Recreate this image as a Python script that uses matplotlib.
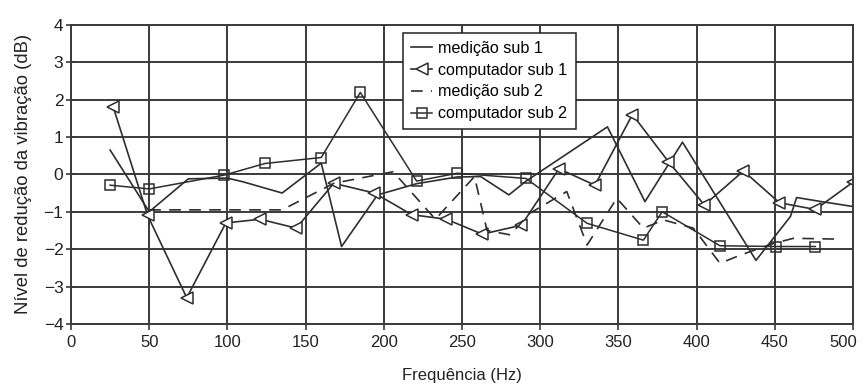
import numpy as np
import matplotlib
matplotlib.use("Agg")
import matplotlib.pyplot as plt
from matplotlib.transforms import ScaledTranslation

plt.rcParams['font.family'] = ['Liberation Sans', 'DejaVu Sans']

# medição sub 1 (linha contínua)
med1_f = [25, 50, 75, 100, 110, 135, 160, 173, 196, 221, 247, 262, 280, 291, 343, 367, 391, 438, 460, 464, 480, 500]
med1_db = [0.65, -1.0, -0.12, -0.1, -0.2, -0.5, 0.3, -1.93, -0.55, -0.25, -0.07, -0.06, -0.55, -0.18, 1.27, -0.73, 0.86, -2.3, -1.13, -0.62, -0.73, -0.86]

# computador sub 1 (triângulos)
comp1_f = [27, 49, 74, 99, 121, 144, 168, 194, 218, 240, 263, 288, 312, 335, 359, 382, 405, 430, 453, 476, 500]
comp1_db = [1.8, -1.1, -3.3, -1.3, -1.2, -1.44, -0.24, -0.5, -1.08, -1.2, -1.6, -1.36, 0.15, -0.29, 1.6, 0.34, -0.82, 0.09, -0.76, -0.94, -0.21]

# medição sub 2 (tracejada)
med2_f = [50, 135, 168, 206, 233, 258, 266, 281, 293, 317, 330, 349, 366, 379, 398, 415, 428, 449, 462, 488]
med2_db = [-0.95, -0.95, -0.24, 0.07, -1.2, -0.06, -1.5, -1.62, -1.05, -0.46, -1.89, -0.64, -1.44, -1.22, -1.44, -2.38, -2.16, -1.85, -1.71, -1.73]

# computador sub 2 (quadrados)
comp2_f = [25, 50, 98, 124, 160, 185, 221, 247, 291, 330, 366, 378, 415, 451, 476]
comp2_db = [-0.29, -0.39, -0.02, 0.29, 0.45, 2.19, -0.18, 0.03, -0.11, -1.31, -1.76, -1.0, -1.91, -1.93, -1.93]

xticks = [0, 50, 100, 150, 200, 250, 300, 350, 400, 450, 500]
yticks = [-4, -3, -2, -1, 0, 1, 2, 3, 4]

ink = '#2e2e2e'

fig = plt.figure(figsize=(8.64, 3.87), dpi=100)
ax = fig.add_axes([0.0822, 0.163, 0.905, 0.773])

ax.plot(med1_f, med1_db, color=ink, lw=1.2, label='medição sub 1')
ax.plot(comp1_f, comp1_db, color=ink, lw=1.2, marker='<', ms=8,
        mfc='white', mec=ink, mew=1.1, label='computador sub 1')
ax.plot(med2_f, med2_db, color=ink, lw=1.2, ls=(0, (7, 5)), label='medição sub 2')
ax.plot(comp2_f, comp2_db, color=ink, lw=1.1, marker='s', ms=7.5,
        mfc='none', mec=ink, mew=1.1, label='computador sub 2')

ax.set_xlim(0, 500)
ax.set_ylim(-4, 4)
ax.set_xticks(xticks)
ax.set_yticks(yticks)
ax.set_yticklabels(['\u2212%d' % -v if v < 0 else str(v) for v in yticks])
ax.grid(True, color='#3a3a3a', lw=1.4)
ax.set_axisbelow(True)
for s in ax.spines.values():
    s.set_color('#3a3a3a')
    s.set_linewidth(1.4)
ax.tick_params(axis='y', direction='inout', length=7, width=1.2, colors='#3a3a3a',
               labelcolor='#222222', labelsize=12.5, pad=2)
ax.tick_params(axis='x', direction='out', length=4, width=1.2, colors='#3a3a3a',
               labelcolor='#222222', labelsize=12, pad=4)

# o último rótulo fica um pouco para a esquerda, como no original
last = ax.get_xticklabels()[-1]
last.set_transform(last.get_transform() + ScaledTranslation(-7 / 72, 0, fig.dpi_scale_trans))

ax.set_xlabel('Frequência (Hz)', fontsize=12, color='#222222', labelpad=13)
ax.set_ylabel('Nível de redução da vibração (dB)', fontsize=13.3, color='#222222', labelpad=8)

leg = ax.legend(loc='upper left', bbox_to_anchor=(0.4246, 0.973), fontsize=11.6,
                frameon=True, fancybox=False, edgecolor='#222222', framealpha=1,
                handlelength=1.3, handletextpad=0.4, borderpad=0.5,
                labelspacing=0.42, borderaxespad=0)
leg.get_frame().set_linewidth(1.1)

fig.savefig('out.png', dpi=100)
